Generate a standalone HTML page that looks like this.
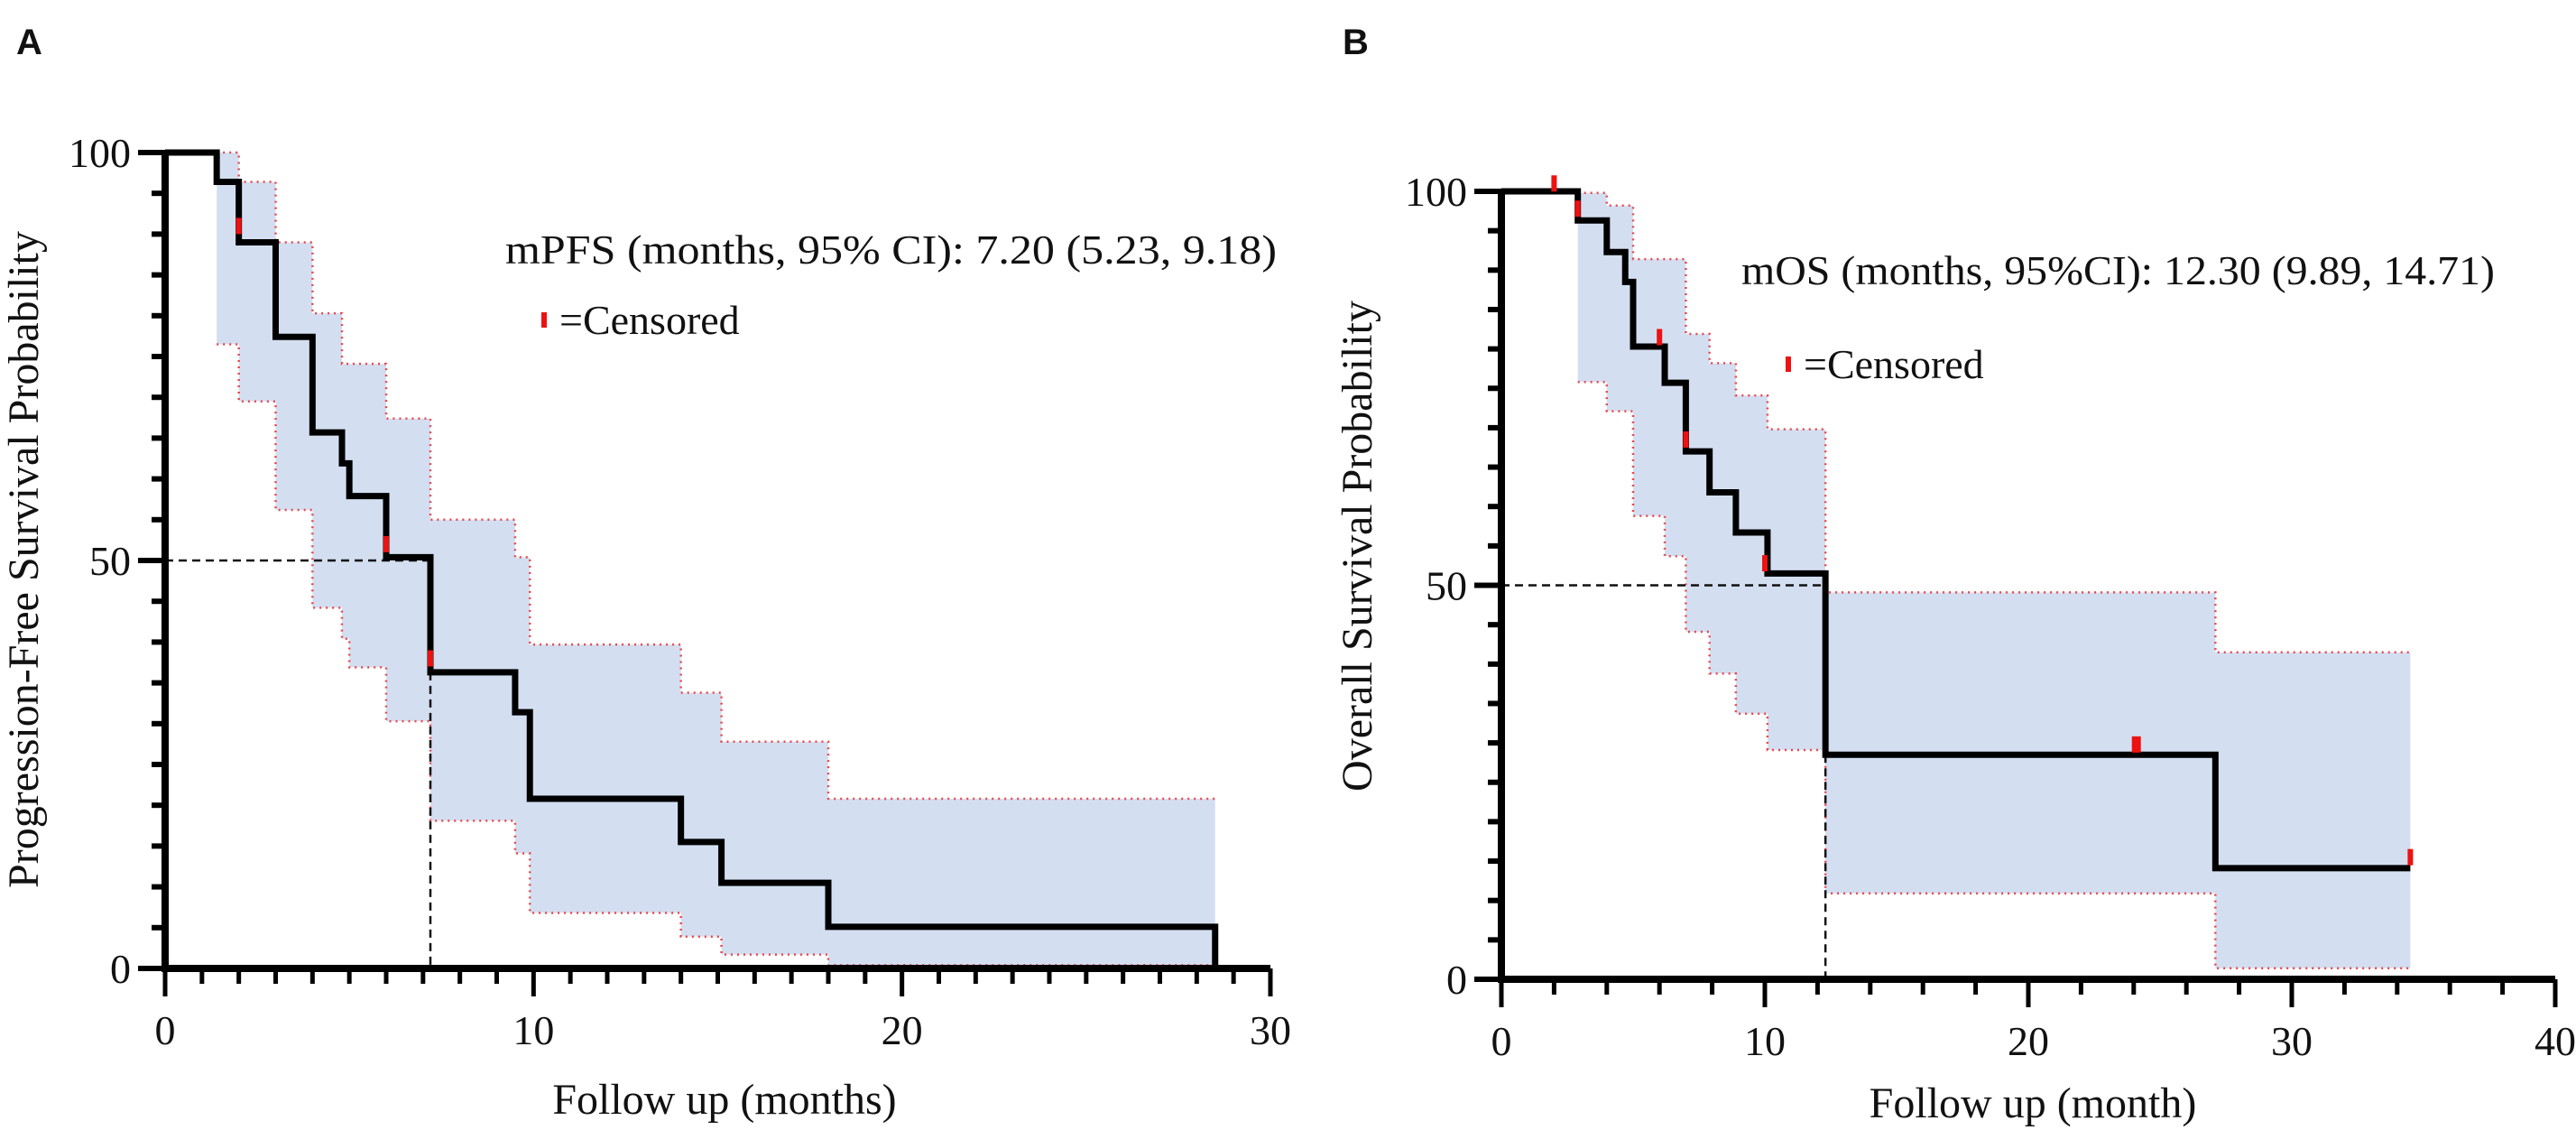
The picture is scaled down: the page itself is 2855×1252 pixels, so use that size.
<!DOCTYPE html>
<html><head><meta charset="utf-8"><style>
html,body{margin:0;padding:0;background:#fff;}
svg{display:block;}
text{font-family:"Liberation Serif",serif;fill:#111;}
</style></head><body>
<svg id="chart" width="2855" height="1252" viewBox="0 0 2855 1252" xmlns="http://www.w3.org/2000/svg">
<text x="18" y="60" style="font-family:'Liberation Sans',sans-serif;font-weight:bold;font-size:40px">A</text>
<text x="1488" y="60" style="font-family:'Liberation Sans',sans-serif;font-weight:bold;font-size:40px">B</text>
<g id="pa"></g>
<g id="pb"></g>
</svg>
<script>
// Panel A data (PFS)
const pfsTimes = [0,1.4,2,3,4,4.8,5,6,7.2,9.5,9.9,14,15.1,18,28.5];
const pfsSurv = [100,96.4,89,77.4,65.7,61.9,57.9,50.4,36.3,31.4,20.8,15.5,10.5,5.1,0];
const pfsCiTimes = [1.4,2,3,4,4.8,5,6,7.2,9.5,9.9,14,15.1,18,28.5];
const pfsCiUpper = [100,96.4,89,80.3,74.1,74.1,67.4,55,50.4,39.7,33.8,27.8,20.8];
const pfsCiLower = [76.5,69.5,56.2,44.2,40.4,36.9,30.3,18.1,14.1,6.8,3.9,1.7,0.4];
const pfsCensorT = [2.0,6.0,7.2];
const pfsCensorS = [91,52,38];
const pfsMedian = 7.2;
const pfsXTicks = [0,10,20,30];
const pfsYTicks = [0,50,100];
// Panel B data (OS)
const osTimes = [0,2.9,4.0,4.7,5.0,6.2,7.0,7.9,8.9,10.1,12.3,27.1,34.5];
const osSurv = [100,96.3,92.3,88.5,80.3,75.7,67.0,61.8,56.7,51.5,28.5,14.1,14.1];
const osCiTimes = [2.9,4.0,5.0,6.2,7.0,7.9,8.9,10.1,12.3,27.1,34.5];
const osCiUpper = [99.8,98.2,91.4,91.4,81.9,78.2,74.1,69.8,49.1,41.5];
const osCiLower = [75.8,72.1,58.8,53.7,44.1,38.8,33.7,29.1,10.9,1.4];
const osCensorT = [2.0,2.9,6.0,7.0,10.0,24.1,34.5];
const osCensorS = [101,97.8,81.5,68.5,52.8,29.8,15.5];
const osMedian = 12.3;
const osXTicks = [0,10,20,30,40];
const osYTicks = [0,50,100];

const NS = "http://www.w3.org/2000/svg";
function mk(parent, tag, attrs){
  const e = document.createElementNS(NS, tag);
  for (const k in attrs) e.setAttribute(k, attrs[k]);
  parent.appendChild(e);
  return e;
}
function drawPanel(g, cfg){
  const X = t => cfg.x0 + (t - 0) / cfg.xmax * (cfg.x1 - cfg.x0);
  const Y = v => cfg.y0 + v / 100 * (cfg.y100 - cfg.y0);
  // CI band
  let up = "", lo = "";
  let ptsU = [], ptsL = [];
  for (let i = 0; i < cfg.ciU.length; i++) {
    ptsU.push([X(cfg.ciT[i]), Y(cfg.ciU[i])], [X(cfg.ciT[i+1]), Y(cfg.ciU[i])]);
    ptsL.push([X(cfg.ciT[i]), Y(cfg.ciL[i])], [X(cfg.ciT[i+1]), Y(cfg.ciL[i])]);
  }
  const poly = ptsU.concat(ptsL.slice().reverse()).map(p => p.join(",")).join(" ");
  const band = mk(g, "polygon", {points: poly, fill: "#d3dff1", stroke: "none"});
  
  
  const pu = mk(g, "polyline", {points: ptsU.map(p=>p.join(",")).join(" "), fill: "none", stroke: "#e8474d", "stroke-width": 2.5, "stroke-dasharray": "2 5"});
  
  
  const pl = mk(g, "polyline", {points: ptsL.map(p=>p.join(",")).join(" "), fill: "none", stroke: "#e8474d", "stroke-width": 2.5, "stroke-dasharray": "2 5"});
  
  
  // median lines
  let medS = 50;
  for (let i = 0; i < cfg.t.length; i++) if (cfg.t[i] <= cfg.median) medS = cfg.s[i];
  const mh = mk(g, "line", {x1: X(0), y1: Y(50), x2: X(cfg.median), y2: Y(50), stroke: "#111", "stroke-width": 2.5, "stroke-dasharray": "9 6"});
  
  
  const mv = mk(g, "line", {x1: X(cfg.median), y1: Y(medS), x2: X(cfg.median), y2: Y(0), stroke: "#111", "stroke-width": 2.5, "stroke-dasharray": "9 6"});
  
  
  // survival step curve
  let d = "M" + X(cfg.t[0]) + "," + Y(cfg.s[0]);
  for (let i = 1; i < cfg.t.length; i++) d += " H" + X(cfg.t[i]) + " V" + Y(cfg.s[i]);
  const c = mk(g, "path", {d: d, fill: "none", stroke: "#000", "stroke-width": 7, "stroke-linejoin": "miter"});
  
  
  // censor marks
  for (let i = 0; i < cfg.cT.length; i++) {
    const w = (cfg.cT[i] > 20 && cfg.cT[i] < 30) ? 10 : 6;
    const r = mk(g, "rect", {x: X(cfg.cT[i]) - w/2, y: Y(cfg.cS[i]) - 9, width: w, height: 18, fill: "#ee1111"});
    
    
  }
  // axes
  const ax = mk(g, "path", {d: "M" + X(0) + "," + (Y(100)) + " V" + Y(0) + " H" + cfg.x1, fill: "none", stroke: "#000", "stroke-width": 8});
  
  
  // y ticks
  for (let v = 0; v <= 100; v += 5) {
    const major = cfg.yTicks.indexOf(v) >= 0;
    const tk = mk(g, "line", {x1: X(0) - (major ? 30 : 15), y1: Y(v), x2: X(0), y2: Y(v), stroke: "#000", "stroke-width": 6});
    
    
  }
  for (const v of cfg.yTicks) {
    const tl = mk(g, "text", {x: X(0) - 38, y: Y(v) + 16, "text-anchor": "end", "font-size": 46});
    tl.textContent = v;
    
    
  }
  // x ticks
  for (let t = 0; t <= cfg.xmax + 1e-9; t += cfg.minor) {
    const major = cfg.xTicks.indexOf(Math.round(t)) >= 0 && Math.abs(t - Math.round(t)) < 1e-6;
    const tk = mk(g, "line", {x1: X(t), y1: Y(0), x2: X(t), y2: Y(0) + (major ? 31 : 17), stroke: "#000", "stroke-width": 5});
    
    
  }
  for (const t of cfg.xTicks) {
    const tl = mk(g, "text", {x: X(t), y: Y(0) + 84, "text-anchor": "middle", "font-size": 46});
    tl.textContent = t;
    
    
  }
  // titles
  const xt = mk(g, "text", {x: cfg.xtX, y: cfg.xtY, "text-anchor": "middle", "font-size": 48});
  xt.textContent = cfg.xTitle;
  
  
  const yt = mk(g, "text", {x: 0, y: 0, "text-anchor": "middle", "font-size": 48, transform: "translate(" + cfg.ytX + "," + cfg.ytY + ") rotate(-90)"});
  yt.textContent = cfg.yTitle;
  
  
  const an = mk(g, "text", {x: cfg.anX, y: cfg.anY, "font-size": 46, textLength: cfg.anW, lengthAdjust: "spacingAndGlyphs"});
  an.textContent = cfg.annot;
  
  
  const lm = mk(g, "rect", {x: cfg.lgX, y: cfg.lgY - 24, width: 6, height: 17, fill: "#ee1111"});
  
  
  const lt = mk(g, "text", {x: cfg.lgX + 20, y: cfg.lgY, "font-size": 46});
  lt.textContent = "=Censored";
  
  
}
drawPanel(document.getElementById("pa"), {
  x0: 183, x1: 1408, xmax: 30, y0: 1073, y100: 169, minor: 1,
  t: pfsTimes, s: pfsSurv, ciT: pfsCiTimes, ciU: pfsCiUpper, ciL: pfsCiLower,
  cT: pfsCensorT, cS: pfsCensorS, median: pfsMedian, xTicks: pfsXTicks, yTicks: pfsYTicks,
  xTitle: "Follow up (months)", xtX: 803, xtY: 1234,
  yTitle: "Progression-Free Survival Probability", ytX: 42, ytY: 620,
  annot: "mPFS (months, 95% CI): 7.20 (5.23, 9.18)", anX: 560, anY: 292, anW: 855,
  lgX: 600, lgY: 370
});
drawPanel(document.getElementById("pb"), {
  x0: 1664, x1: 2832, xmax: 40, y0: 1085, y100: 212, minor: 2,
  t: osTimes, s: osSurv, ciT: osCiTimes, ciU: osCiUpper, ciL: osCiLower,
  cT: osCensorT, cS: osCensorS, median: osMedian, xTicks: osXTicks, yTicks: osYTicks,
  xTitle: "Follow up (month)", xtX: 2253, xtY: 1238,
  yTitle: "Overall Survival Probability", ytX: 1520, ytY: 605,
  annot: "mOS (months, 95%CI): 12.30 (9.89, 14.71)", anX: 1930, anY: 315, anW: 835,
  lgX: 1979, lgY: 419
});
</script>
</body></html>
